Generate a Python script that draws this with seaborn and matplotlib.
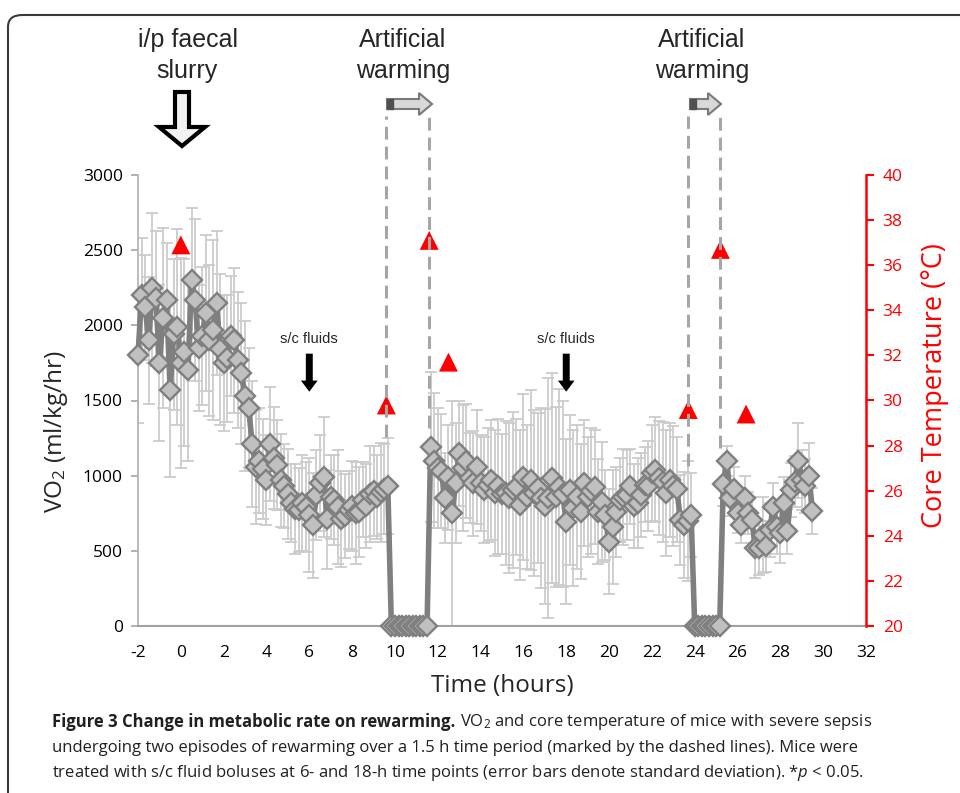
import numpy as np
import pandas as pd
import matplotlib
matplotlib.use("Agg")
import matplotlib.pyplot as plt
from matplotlib.patches import Polygon, FancyBboxPatch
import seaborn as sns

# ---------------- data ----------------
# VO2 samples every 10 minutes starting at t = -2 h
t_start = -2.0
step_h = 1.0 / 6.0
vo2_seg1 = [1800, 2200, 2120, 1900, 2250, 2180, 1750, 2050, 2170, 1570, 1940, 1990,
            1750, 1820, 1700, 2300, 2170, 1850, 1930, 2080, 1900, 1970, 2150, 1840, 1750,
            1780, 1930, 1900, 1770, 1680, 1530, 1450, 1210, 1060, 1100, 1045, 970, 1210,
            1120, 1070, 970, 930, 880,
            820, 780, 770, 820, 790, 740, 670, 870, 950, 990, 710, 860, 840, 790, 710,
            730, 770, 800, 750, 760, 840, 800, 880, 900, 860, 890, 910, 930]
vo2_warm1 = [0] * 11
vo2_seg2 = [1190, 1100, 1050, 1030, 850, 990, 750, 950, 1150, 1050, 1100, 985, 950,
            1060, 950, 905, 940, 970, 885, 930, 880, 885, 850, 905, 925, 805, 990, 860,
            970, 885, 920, 850, 795, 850,
            985, 860, 925, 880, 695, 905, 785, 860, 760, 950, 860, 900, 925, 760, 825,
            740, 560, 660, 760, 840, 860, 870, 930, 800, 820, 870, 940, 930, 1020, 1040,
            985, 960, 885, 970, 930, 910, 705, 672, 700, 740]
vo2_warm2 = [0] * 8
vo2_seg3 = [945, 1100, 850, 910, 750, 670, 850, 750, 705, 520, 520, 605, 530, 640,
            790, 660, 620, 820, 630, 905, 960, 1100, 970, 930, 1000, 765]

sd_seg1 = [450, 380, 350, 420, 500, 450, 520, 600, 380, 580, 500, 650, 700, 620, 600,
           480, 540, 420, 460, 520, 500, 600, 480, 500, 450,
           420, 400, 480, 450, 470, 500, 400, 420, 380, 350, 330, 300, 380, 340, 300,
           310, 280, 300,
           260, 300, 280, 320, 300, 380, 350, 300, 320, 400, 330, 280, 300, 380, 320,
           280, 260, 300, 340, 300, 250, 280, 320, 300, 280, 330, 300, 320]
sd_warm1 = [0] * 11
sd_seg2 = [500, 450, 400, 380, 300, 350, 750, 400, 350, 420, 380, 300, 350, 380, 320,
           350, 380, 400, 420, 450, 400, 480, 500, 520, 450, 500, 550, 480, 600, 550,
           500, 600, 650, 800,
           700, 600, 650, 620, 550, 500, 520, 480, 450, 420, 400, 420, 380, 350, 400,
           300, 350, 380, 300, 280, 320, 300, 250, 280, 300, 280, 250, 300, 320, 350,
           380, 400, 420, 380, 400, 350, 300, 350, 400, 280]
sd_warm2 = [0] * 8
sd_seg3 = [150, 100, 120, 150, 130, 120, 150, 140, 150, 200, 180, 250, 170, 180, 160,
           180, 200, 170, 150, 180, 170, 250, 200, 180, 220, 150]

temp_time = [0.0, 9.6, 11.6, 12.5, 23.7, 25.2, 26.4]
temp_val = [36.9, 29.8, 37.1, 31.7, 29.6, 36.7, 29.4]

warming_times = [9.6, 11.6, 23.7, 25.2]
fluid_times = [6.0, 18.0]

x_ticks = list(range(-2, 33, 2))
y_ticks = list(range(0, 3001, 500))
t_ticks = list(range(20, 41, 2))

vo2 = np.array(vo2_seg1 + vo2_warm1 + vo2_seg2 + vo2_warm2 + vo2_seg3, dtype=float)
sd = np.array(sd_seg1 + sd_warm1 + sd_seg2 + sd_warm2 + sd_seg3, dtype=float)
time = t_start + step_h * np.arange(len(vo2))
df = pd.DataFrame({"time": time, "vo2": vo2, "sd": sd})
tdf = pd.DataFrame({"time": temp_time, "temp": temp_val})

# ---------------- style ----------------
sns.set_style("white")
plt.rcParams["font.family"] = ["Open Sans", "DejaVu Sans"]
plt.rcParams["axes.unicode_minus"] = False
plt.rcParams["mathtext.fontset"] = "custom"
plt.rcParams["mathtext.rm"] = "Open Sans"
plt.rcParams["mathtext.it"] = "Open Sans:italic"
plt.rcParams["mathtext.bf"] = "Open Sans:bold"

W, H = 960, 793
fig = plt.figure(figsize=(W / 100, H / 100), dpi=100)


def P(x, y):
    return (x / W, 1 - y / H)


AX_L, AX_R, AX_T, AX_B = 138, 866, 175, 626
ax = fig.add_axes([AX_L / W, 1 - AX_B / H, (AX_R - AX_L) / W, (AX_B - AX_T) / H])
ax2 = ax.twinx()


def axfrac(x, y):
    return ((x - AX_L) / (AX_R - AX_L), (AX_B - y) / (AX_B - AX_T))


# error bars
m = df["sd"] > 0
ax.errorbar(df.loc[m, "time"], df.loc[m, "vo2"], yerr=df.loc[m, "sd"], fmt="none",
            ecolor="#cbcbcb", elinewidth=1.3, capsize=4, capthick=1.3, zorder=1)
sns.lineplot(data=df, x="time", y="vo2", ax=ax, sort=False, estimator=None,
             color="#7f7f7f", lw=4, marker="D", markersize=10,
             markerfacecolor="#c0c0c0", markeredgecolor="#7f7f7f",
             markeredgewidth=1.7, clip_on=False, zorder=3)

ax.set_xlim(-2, 32)
ax.set_ylim(0, 3000)
ax.set_xticks(x_ticks)
ax.set_yticks(y_ticks)
ax.set_xticklabels([str(v) for v in x_ticks])
ax.set_yticklabels([str(v) for v in y_ticks])
ax.tick_params(axis="both", direction="out", length=5, width=1.2, color="#a6a6a6",
               labelsize=12.5, labelcolor="black")
ax.tick_params(axis="x", pad=9)
ax.tick_params(axis="y", pad=6)
for s in ["top", "right"]:
    ax.spines[s].set_visible(False)
ax.spines["left"].set_color("#b0b0b0")
ax.spines["bottom"].set_color("#a0a0a0")
ax.spines["left"].set_linewidth(1.2)
ax.spines["bottom"].set_linewidth(1.5)
ax.set_xlabel("Time (hours)", fontsize=17.5, va="center")
ax.xaxis.set_label_coords(*axfrac(502, 686))
ax.set_ylabel("VO$_2$ (ml/kg/hr)", fontsize=17.5, va="center")
ax.yaxis.set_label_coords(*axfrac(56, 432))

# temperature axis
sns.scatterplot(data=tdf, x="time", y="temp", ax=ax2, marker="^", s=185,
                color="#ff0000", edgecolor="none", zorder=4, clip_on=False)
ax2.set_ylim(20, 40)
ax2.set_yticks(t_ticks)
ax2.set_yticklabels([str(v) for v in t_ticks])
ax2.tick_params(axis="y", direction="out", length=6, width=1.5, color="#ff0000",
                labelcolor="#ff0000", labelsize=12.5, pad=6)
for s in ["top", "left", "bottom"]:
    ax2.spines[s].set_visible(False)
ax2.spines["right"].set_color("#ff0000")
ax2.spines["right"].set_linewidth(1.8)
ax2.set_ylabel("Core Temperature (°C)", fontsize=19.5, color="#ff0000",
               rotation=90, va="center")
ax2.yaxis.set_label_position("right")
ax2.yaxis.set_label_coords(*axfrac(921, 386))

# dashed lines for warming periods (in temperature-axis units)
dash_bottoms = [28.4, 28.8, 27.1, 27.9]
for xt, yb in zip(warming_times, dash_bottoms):
    ax2.plot([xt, xt], [yb, 42.6], ls=(0, (4.2, 2.3)), color="#a6a6a6", lw=2.2,
             clip_on=False, zorder=5)

# s/c fluids annotation
for ft in fluid_times:
    ax.text(ft, 1910, "s/c fluids", ha="center", va="center", fontsize=10.5,
            family=["Liberation Sans", "DejaVu Sans"])
    ax.annotate("", xy=(ft, 1540), xytext=(ft, 1830),
                arrowprops=dict(arrowstyle="simple,head_width=1.2,head_length=0.8,tail_width=0.5",
                                color="black", lw=0))

# top annotations
narrow = ["Liberation Sans Narrow", "Liberation Sans", "DejaVu Sans"]
for (x, y, s) in [(188, 40, "i/p faecal"), (187, 71, "slurry"),
                  (403, 40, "Artificial"), (403, 71, "warming"),
                  (702, 40, "Artificial"), (702, 71, "warming")]:
    fig.text(*P(x, y), s, ha="center", va="center", fontsize=18, family=narrow)

# hollow down arrow
down = [P(175, 92), P(189, 92), P(189, 127), P(205, 127), P(182, 146),
        P(159, 127), P(175, 127)]
fig.patches.append(Polygon(down, closed=True, transform=fig.transFigure,
                           facecolor="#f2f2f2", edgecolor="black", lw=3, joinstyle="miter"))


def right_arrow(x0, x1, yc):
    hx = x1 - 13
    pts = [P(x0, yc - 5), P(hx, yc - 5), P(hx, yc - 11), P(x1, yc), P(hx, yc + 11),
           P(hx, yc + 5), P(x0, yc + 5)]
    fig.patches.append(Polygon(pts, closed=True, transform=fig.transFigure,
                               facecolor="#d9d9d9", edgecolor="#7a7a7a", lw=1.5))
    dark = [P(x0, yc - 5), P(x0 + 6, yc - 5), P(x0 + 6, yc + 5), P(x0, yc + 5)]
    fig.patches.append(Polygon(dark, closed=True, transform=fig.transFigure,
                               facecolor="#505050", edgecolor="#505050", lw=1))


right_arrow(387, 432, 104)
right_arrow(690, 721, 104)

# frame
fig.patches.append(FancyBboxPatch(P(8, 900), 1.2, (900 - 15) / H,
                                  boxstyle="round,pad=0,rounding_size=0.015",
                                  transform=fig.transFigure, facecolor="none",
                                  edgecolor="#3a3a3a", lw=1.5, clip_on=False))

# caption
cap_fs = 12
fig.canvas.draw()
r = fig.canvas.get_renderer()
tb = fig.text(*P(52, 722), "Figure 3 Change in metabolic rate on rewarming.", fontsize=cap_fs,
              fontweight="bold", va="center", ha="left", color="#231f20")
bb = tb.get_window_extent(renderer=r)
fig.text((bb.x1 + 5) / W, 1 - 722 / H,
         "VO$_2$ and core temperature of mice with severe sepsis", fontsize=cap_fs,
         va="center", ha="left", color="#231f20")
fig.text(*P(52, 748), "undergoing two episodes of rewarming over a 1.5 h time period (marked by the dashed lines). Mice were",
         fontsize=cap_fs, va="center", ha="left", color="#231f20")
fig.text(*P(52, 773), "treated with s/c fluid boluses at 6- and 18-h time points (error bars denote standard deviation). *$p$ < 0.05.",
         fontsize=cap_fs, va="center", ha="left", color="#231f20")

fig.savefig("out.png", dpi=100)
